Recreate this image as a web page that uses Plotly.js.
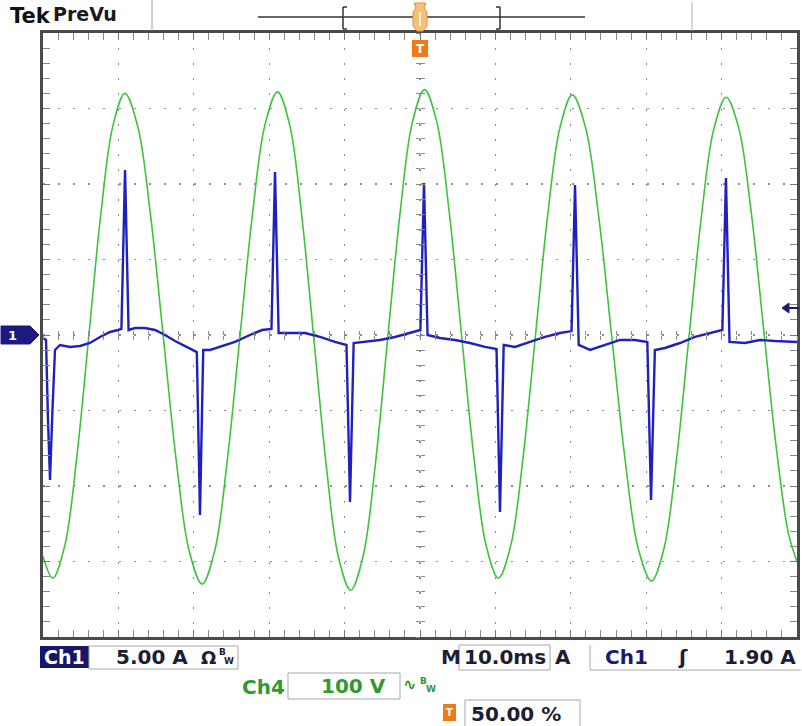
<!DOCTYPE html>
<html><head><meta charset="utf-8">
<script src="https://cdn.plot.ly/plotly-3.0.1.min.js"></script>
<style>html,body{margin:0;padding:0;background:#fff;overflow:hidden}#chart{width:802px;height:726px}</style>
</head><body><div id="chart"></div>
<script>
// ---- Channel 4 (voltage, green), time in ms, volts ----
const ch4Time = [0, 1.3, 2.89, 4.49, 6.08, 7.67, 9.27, 10.86, 12.57, 14.27, 15.98, 17.69, 19.39, 21.1, 22.77, 24.43, 26.1, 27.77, 29.43, 31.1, 32.72, 34.33, 35.95, 37.57, 39.18, 40.8, 42.43, 44.07, 45.7, 47.33, 48.97, 50.6, 52.23, 53.87, 55.5, 57.13, 58.77, 60.4, 62.03, 63.67, 65.3, 66.93, 68.57, 70.2, 71.95, 73.7, 75.45, 77.2, 78.95, 80.7, 82.35, 84.0, 85.65, 87.3, 88.95, 90.6, 92.25, 93.9, 95.55, 97.2, 98.85, 100];
const ch4Volts = [-293, -322, -279, -161, -1, 160, 277, 320, 276, 158, -5, -168, -286, -330, -286, -167, -4, 159, 278, 322, 278, 157, -8, -173, -294, -338, -294, -172, -6, 159, 281, 325, 282, 163, 1, -160, -279, -322, -279, -162, -2, 158, 275, 318, 275, 157, -4, -165, -283, -326, -283, -166, -5, 155, 272, 315, 275, 165, 10, -145, -262, -300];

// ---- Channel 1 (current, blue), time in ms, amps ----
const ch1Time = [0, 0.40, 0.66, 0.93, 1.25, 1.59, 2.25, 3.58, 4.91, 6.23, 7.56, 8.89, 9.95, 10.40, 10.88, 11.35, 12.20, 13.53, 14.85, 16.18, 17.51, 18.83, 19.89, 20.40, 20.82, 21.25, 22.15, 23.47, 25.46, 27.45, 29.05, 30.30, 30.77, 31.25, 32.76, 34.75, 36.74, 38.73, 40.25, 40.72, 41.20, 42.71, 44.69, 46.68, 48.67, 50.05, 50.53, 51.0, 52.65, 54.64, 56.63, 58.62, 60.15, 60.61, 61.10, 62.60, 64.59, 66.58, 68.57, 70.10, 70.56, 71.05, 72.55, 74.54, 76.53, 78.51, 80.15, 80.64, 81.15, 82.49, 84.48, 86.47, 88.46, 90.10, 90.58, 91.05, 93.10, 95.09, 97.08, 100];
const ch1Amps = [-0.20, -0.33, -5.6, -9.6, -5.0, -0.99, -0.66, -0.79, -0.73, -0.53, -0.13, 0.20, 0.33, 0.40, 10.93, 0.33, 0.46, 0.46, 0.33, 0, -0.40, -0.73, -0.99, -1.13, -11.92, -0.99, -0.99, -0.79, -0.46, 0, 0.33, 0.40, 10.79, 0.13, 0.13, 0.13, -0.13, -0.46, -0.66, -11.06, -0.53, -0.46, -0.33, -0.13, 0.13, 0.33, 10.07, 0, -0.20, -0.33, -0.53, -0.79, -0.93, -11.72, -0.66, -0.79, -0.46, -0.13, 0.13, 0.26, 9.93, -0.66, -0.99, -0.66, -0.33, -0.33, -0.46, -10.93, -0.99, -0.86, -0.53, -0.13, 0.13, 0.33, 10.40, -0.46, -0.53, -0.33, -0.40, -0.46];

// ---- readouts ----
const headerBrand = 'Tek';
const headerMode = 'PreVu';
const ch1Label = 'Ch1';
const ch1Scale = '5.00 A';
const ch4Label = 'Ch4';
const ch4Scale = '100 V';
const timebase = '10.0ms';
const trigSource = 'Ch1';
const trigLevel = '1.90 A';
const trigPos = '50.00 %';

// ---- geometry helpers (pixel -> paper) ----
const L = 43, R = 797, TOP = 33, BOT = 637;
const PX = x => (x - L) / (R - L);
const PY = y => (BOT - y) / (BOT - TOP);

const navy = '#1a1a6e', ink = '#1d1d35', grn = '#2f9a2f';
const gridCol = '#8c8c8c';

const traces = [
  {x: ch4Time, y: ch4Volts, type: 'scatter', mode: 'lines', xaxis: 'x', yaxis: 'y',
   line: {color: '#3cc43c', width: 1.6, shape: 'spline', smoothing: 1}, hoverinfo: 'skip', showlegend: false},
  {x: ch1Time, y: ch1Amps, type: 'scatter', mode: 'lines', xaxis: 'x', yaxis: 'y2',
   line: {color: '#2020c0', width: 2.4}, hoverinfo: 'skip', showlegend: false},
  // carriers for the centre graticule tick axes
  {x: [null], y: [null], xaxis: 'x2', yaxis: 'y', hoverinfo: 'skip', showlegend: false},
  {x: [null], y: [null], xaxis: 'x3', yaxis: 'y', hoverinfo: 'skip', showlegend: false},
  {x: [null], y: [null], xaxis: 'x', yaxis: 'y3', hoverinfo: 'skip', showlegend: false},
  {x: [null], y: [null], xaxis: 'x', yaxis: 'y4', hoverinfo: 'skip', showlegend: false}
];

const baseAxis = {
  showgrid: true, gridcolor: gridCol, gridwidth: 1.3, griddash: '2px,13.1px',
  showline: true, linecolor: '#4a4a4a', linewidth: 3, mirror: 'allticks',
  ticks: 'inside', ticklen: 7, tickcolor: '#777', tickwidth: 1,
  showticklabels: false, zeroline: false, fixedrange: true
};
const centreTicks = (extra) => Object.assign({
  showgrid: false, showline: false, zeroline: false, showticklabels: false,
  ticklen: 4, tickcolor: '#8a8a8a', tickwidth: 1, fixedrange: true, anchor: 'free', position: 0.5
}, extra);

const layout = {
  width: 802, height: 726,
  margin: {l: L, r: 802 - R, t: TOP, b: 726 - BOT, pad: 0},
  paper_bgcolor: '#fff', plot_bgcolor: '#fff',
  showlegend: false,
  xaxis: Object.assign({}, baseAxis, {range: [0, 100], tick0: 0, dtick: 10,
    minor: {dtick: 2, ticks: 'inside', ticklen: 4, tickcolor: '#888', showgrid: false}}),
  yaxis: Object.assign({}, baseAxis, {range: [-400, 400], tick0: 0, dtick: 100,
    minor: {dtick: 20, ticks: 'inside', ticklen: 4, tickcolor: '#888', showgrid: false}}),
  yaxis2: {overlaying: 'y', range: [-20, 20], visible: false, fixedrange: true},
  xaxis2: centreTicks({overlaying: 'x', range: [0, 100], tick0: 0, dtick: 2, ticks: 'outside', side: 'bottom'}),
  xaxis3: centreTicks({overlaying: 'x', range: [0, 100], tick0: 0, dtick: 2, ticks: 'inside', side: 'bottom'}),
  yaxis3: centreTicks({overlaying: 'y', range: [-400, 400], tick0: 0, dtick: 20, ticks: 'outside', side: 'left'}),
  yaxis4: centreTicks({overlaying: 'y', range: [-400, 400], tick0: 0, dtick: 20, ticks: 'inside', side: 'left'}),
  shapes: [], annotations: []
};

const S = layout.shapes, A = layout.annotations;
function line(x0, y0, x1, y1, color, width) {
  S.push({type: 'line', xref: 'paper', yref: 'paper', x0: PX(x0), y0: PY(y0), x1: PX(x1), y1: PY(y1),
          line: {color: color, width: width}});
}
function rect(x0, y0, x1, y1, fill, lc, lw) {
  S.push({type: 'rect', xref: 'paper', yref: 'paper', x0: PX(x0), y0: PY(y0), x1: PX(x1), y1: PY(y1),
          fillcolor: fill, line: {color: lc || fill, width: lw === undefined ? 0 : lw}});
}
function poly(pts, fill, lc) {
  const d = pts.map((p, i) => (i ? 'L' : 'M') + PX(p[0]).toFixed(5) + ',' + PY(p[1]).toFixed(5)).join(' ') + ' Z';
  S.push({type: 'path', xref: 'paper', yref: 'paper', path: d, fillcolor: fill, line: {color: lc || fill, width: 1}});
}
function txt(text, x, y, size, color, opts) {
  A.push(Object.assign({text: text, xref: 'paper', yref: 'paper', x: PX(x), y: PY(y),
    xanchor: 'left', yanchor: 'middle', showarrow: false,
    font: {family: 'DejaVu Sans, Verdana, sans-serif', size: size, color: color}}, opts || {}));
}

// ---- header ----
txt('<b>' + headerBrand + '</b>', 8, 16, 21, '#111');
txt(headerMode, 51, 14, 19, '#1a1a1a', {font: {family: 'DejaVu Sans, Verdana, sans-serif', size: 19, color: '#1a1a1a', weight: 600}});
line(152, 0, 152, 31, '#9a9a9a', 1);
line(692, 2, 692, 31, '#b0b0b0', 1);
line(258, 17, 585, 17, '#333', 1.5);
// record brackets
line(343, 7, 343, 29, '#333', 1.5); line(343, 7, 347, 7, '#333', 1.5); line(343, 29, 347, 29, '#333', 1.5);
line(500, 7, 500, 29, '#333', 1.5); line(500, 7, 496, 7, '#333', 1.5); line(500, 29, 496, 29, '#333', 1.5);
// trigger position marker
poly([[414, 3], [426, 3], [424, 8], [427, 12], [427, 26], [423, 31], [417, 31], [413, 26], [413, 12], [416, 8]], '#f4c07a', '#e3932e');
line(420, 12, 420, 26, '#fff', 1.5);
rect(412, 40, 428, 57, '#f07a16');
txt('<b>T</b>', 420, 48.5, 12, '#fff', {xanchor: 'center'});

// ---- channel 1 ground marker ----
poly([[1, 326], [30, 326], [39, 335], [30, 344], [1, 344]], '#1a1a80');
txt('<b>1</b>', 12, 335, 13, '#fff', {xanchor: 'center'});
// trigger level arrow on right
line(787, 308, 799, 308, '#1a1a70', 2);
poly([[782, 308], [789, 303], [789, 313]], '#1a1a70');

// ---- status bar ----
rect(40, 646, 89, 668, '#16166b');
txt('<b>' + ch1Label + '</b>', 42, 657, 19, '#fff');
rect(89, 646, 238, 669, 'rgba(0,0,0,0)', '#a8a8a8', 1);
txt('<b>' + ch1Scale + '</b>', 114, 657, 20, ink);
txt('<b>Ω</b>', 199, 657, 18, ink);
txt('<b>B</b>', 217, 652, 9, ink); txt('<b>W</b>', 222, 661, 9, ink);

txt('<b>' + ch4Label + '</b>', 240, 687, 20, grn);
rect(288, 673, 400, 699, 'rgba(0,0,0,0)', '#a8a8a8', 1);
txt('<b>' + ch4Scale + '</b>', 319, 686, 20, grn);
txt('<b>∿</b>', 401, 684, 16, grn);
txt('<b>B</b>', 418, 681, 9, grn); txt('<b>W</b>', 424, 689, 9, grn);

txt('<b>M</b>', 439, 657, 20, ink);
rect(459, 645, 550, 670, 'rgba(0,0,0,0)', '#a8a8a8', 1);
txt('<b>' + timebase + '</b>', 462, 657, 20, ink);
txt('<b>A</b>', 553, 657, 20, ink);
line(590, 645, 590, 670, '#a8a8a8', 1); line(590, 670, 801, 670, '#a8a8a8', 1);
txt('<b>' + trigSource + '</b>', 603, 657, 20, navy);
txt('<b>ʃ</b>', 676, 657, 20, ink);
txt('<b>' + trigLevel + '</b>', 722, 657, 20, ink);

rect(443, 704, 456, 721, '#f07a16');
txt('<b>T</b>', 449.5, 712.5, 10, '#fff', {xanchor: 'center'});
rect(465, 700, 580, 727, 'rgba(0,0,0,0)', '#a8a8a8', 1);
txt('<b>' + trigPos + '</b>', 469, 714, 20, ink);

Plotly.newPlot('chart', traces, layout, {staticPlot: true, displayModeBar: false});
</script></body></html>
